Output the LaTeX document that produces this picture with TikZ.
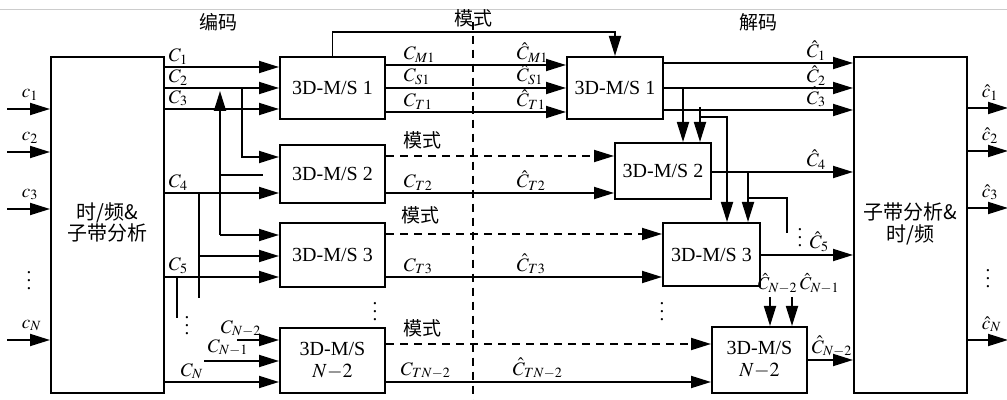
\documentclass[tikz,border=0pt]{standalone}
\usepackage{mathptmx}
\usepackage{fontspec}
\setmainfont{Liberation Serif}
\newfontfamily\cjk{Noto Sans CJK SC}
\usetikzlibrary{arrows.meta}
\begin{document}
\begin{tikzpicture}[x=0.5pt,y=-0.5pt,line width=0.9pt,
  box/.style={draw,line width=1pt,inner sep=0pt,align=center,font=\fontsize{10}{11}\selectfont},
  bigbox/.style={box,minimum width=56.5pt,minimum height=168pt,font=\cjk\fontsize{10}{10.5}\selectfont},
  encbox/.style={box,minimum width=52.5pt},
  decbox/.style={box,minimum width=48pt},
  arr/.style={-{Triangle[length=10pt,width=6pt]}},
  lab/.style={font=\fontsize{9.5}{10}\selectfont,inner sep=0pt},
  lb/.style={lab,anchor=south west},
  zh/.style={font=\cjk\fontsize{9.5}{11}\selectfont,inner sep=0pt},
  mode/.style={dash pattern=on 4pt off 3pt}]
\useasboundingbox (0,0) rectangle (1007,400);
\draw[gray!40,line width=0.5pt] (0,10) -- (1007,10);

% titles
\node[zh] (t1) at (218,22) {编码};
\node[zh] (t2) at (473,18) {模式};
\node[zh] (t3) at (758,22) {解码};

% boxes
\node[bigbox] (L) at (107.5,225) {\raisebox{1pt}{\begin{tabular}{@{}c@{}}时/频\&\\[-1pt]子带分析\end{tabular}}};
\node[bigbox] (R) at (910.5,225) {\raisebox{-5.5pt}{\begin{tabular}{@{}c@{}}子带分析\&\\[-0.5pt]时/频\end{tabular}}};
\node[encbox,minimum height=31pt] (E1) at (332.5,88) {3D-M/S 1};
\node[encbox,minimum height=29pt] (E2) at (332.5,174) {3D-M/S 2};
\node[encbox,minimum height=32pt] (E3) at (332.5,255) {3D-M/S 3};
\node[encbox,minimum height=32.5pt] (EN) at (332.5,360.5) {3D-M/S\\$N{-}2$};
\node[decbox,minimum height=31pt] (D1) at (615,88) {3D-M/S 1};
\node[decbox,minimum height=28pt] (D2) at (663,171) {3D-M/S 2};
\node[decbox,minimum width=48.5pt,minimum height=31.5pt] (D3) at (711.5,254.5) {3D-M/S 3};
\node[decbox,minimum width=47.5pt,minimum height=33pt] (DN) at (759.5,360) {3D-M/S\\$N{-}2$};

% inputs
\foreach \yy/\nm in {109/1,152/2,209/3,340/N}{
  \draw[arr] (L.west |- 0,\yy) ++(-43,0) -- (L.west |- 0,\yy);
  \node[lb] (in\nm) at (21,\yy-8) {$c_{\nm}$};
}
\node[lab] (ldots) at (29,275) {$\vdots$};

% outputs
\foreach \yy/\nm in {108/1,151/2,208/3,340/N}{
  \draw[arr] (R.east |- 0,\yy) -- ++(40,0);
  \node[lb] (out\nm) at (981,\yy-7) {$\hat{c}_{\nm}$};
}
\node[lab] (rdots) at (988,273) {$\vdots$};

% encoder inputs
\draw[arr] (L.east |- 0,67) -- (E1.west |- 0,67);
\draw[arr] (L.east |- 0,88) -- (E1.west |- 0,88);
\draw[arr] (L.east |- 0,109) -- (E1.west |- 0,109);
\draw[arr] (L.east |- 0,193) -- (E2.west |- 0,193);
\draw[arr] (L.east |- 0,277) -- (E3.west |- 0,277);
\draw[arr] (L.east |- 0,382) -- (EN.west |- 0,382);
\node[lb] (C1) at (168,65) {$C_1$};
\node[lb] (C2) at (168,86) {$C_2$};
\node[lb] (C3) at (168,107) {$C_3$};
\node[lb] (C4) at (168,191) {$C_4$};
\node[lb] (C5) at (168,275) {$C_5$};
\node[lb] (CN) at (180,380) {$C_N$};

\coordinate (b2) at (242,88);
\draw[arr] (b2) |- (E2.west |- 0,157);
\coordinate (j3) at (220,235);
\draw[arr] (j3) -- (220,91);
\draw[arr] (j3) -- (E3.west |- j3);
\draw (220,175) -- (263,175);
\coordinate (b4) at (199,193);
\draw (b4) -- (199,298);
\draw[arr] (199,256) -- (E3.west |- 0,256);
\coordinate (b5) at (177,277);
\draw (b5) -- (177,318);
\node[lab] (edots1) at (187,320) {$\vdots$};
\coordinate (cn2) at (237,340);
\draw[arr] (cn2) -- (EN.west |- cn2);
\coordinate (cn1) at (204,361);
\draw[arr] (cn1) -- (EN.west |- cn1);
\node[lb] (CN2) at (220,338) {$C_{N{-}2}$};
\node[lb] (CN1) at (207,357) {$C_{N{-}1}$};

% mode top
\draw[arr] (E1.north) -- ++(0,-24) -| (D1.north);

% channel lines
\draw[arr] (E1.east |- 0,65) -- (D1.west |- 0,65);
\draw[arr] (E1.east |- 0,88) -- (D1.west |- 0,88);
\draw[arr] (E1.east |- 0,112) -- (D1.west |- 0,112);
\node[lb] (CM1) at (403,63) {$C_{M1}$};
\node[lb] (CS1) at (403,86) {$C_{S1}$};
\node[lb] (CT1) at (403,110) {$C_{T1}$};
\node[lb] (hCM1) at (516,63) {$\hat{C}_{M1}$};
\node[lb] (hCS1) at (516,86) {$\hat{C}_{S1}$};
\node[lb] (hCT1) at (516,110) {$\hat{C}_{T1}$};

\draw[arr,mode] (E2.east |- 0,156) -- (D2.west |- 0,156);
\draw[arr] (E2.east |- 0,193) -- (D2.west |- 0,193);
\node[zh] (m2) at (422,140) {模式};
\node[lb] (CT2) at (403,191) {$C_{T2}$};
\node[lb] (hCT2) at (516,191) {$\hat{C}_{T2}$};

\draw[arr,mode] (E3.east |- 0,234) -- (D3.west |- 0,234);
\draw[arr] (E3.east |- 0,277) -- (D3.west |- 0,277);
\node[zh] (m3) at (420,215) {模式};
\node[lb] (CT3) at (403,275) {$C_{T3}$};
\node[lb] (hCT3) at (516,275) {$\hat{C}_{T3}$};

\draw[arr,mode] (EN.east |- 0,344) -- (DN.west |- 0,344);
\draw[arr] (EN.east |- 0,382) -- (DN.west |- 0,382);
\node[zh] (mN) at (422,328) {模式};
\node[lb] (CTN) at (400,380) {$C_{TN{-}2}$};
\node[lb] (hCTN) at (512,380) {$\hat{C}_{TN{-}2}$};

\node[lab] (edots2) at (375,306) {$\vdots$};
\node[lab] (ddots2) at (662,306) {$\vdots$};

% centre dashed line
\draw[mode] (t2.south) ++(0,-6) coordinate (top) -- (473,400);

% decoder
\draw[arr] (D1.east |- 0,63) -- (R.west |- 0,63);
\draw[arr] (D1.east |- 0,88) -- (R.west |- 0,88);
\draw[arr] (D1.east |- 0,110) -- (R.west |- 0,110);
\node[lb] (hC1) at (806,61) {$\hat{C}_1$};
\node[lb] (hC2) at (806,86) {$\hat{C}_2$};
\node[lb] (hC3) at (806,108) {$\hat{C}_3$};
\coordinate (d2) at (683,88);
\draw[arr] (d2) -- (D2.north -| d2);
\coordinate (d3) at (700,107);
\draw[arr] (d3) -- (D2.north -| d3);
\coordinate (d3b) at (700,117);
\draw[arr] (d3b) -| (D3.north -| 727,0);
\draw[arr] (D2.east |- 0,172) -- (R.west |- 0,172);
\node[lb] (hC4) at (806,170) {$\hat{C}_4$};
\coordinate (d4) at (748,172);
\draw[arr] (d4) -- (D3.north -| d4);
\draw (748,198) -| (787,233);
\node[lab] (ddots1) at (800,232) {$\vdots$};
\draw[arr] (D3.east |- 0,255) -- (R.west |- 0,255);
\node[lb] (hC5) at (809,253) {$\hat{C}_5$};
\coordinate (n2) at (770,297);
\coordinate (n1) at (792,297);
\draw[arr] (n2) -- (DN.north -| n2);
\draw[arr] (n1) -- (DN.north -| n1);
\node[lb,font=\fontsize{9}{10}\selectfont] (hCN2a) at (757,295) {$\hat{C}_{N{-}2}$};
\node[lb,font=\fontsize{9}{10}\selectfont] (hCN1) at (799,295) {$\hat{C}_{N{-}1}$};
\draw[arr] (DN.east |- 0,360) -- (R.west |- 0,360);
\node[lb] (hCN2b) at (811,358) {$\hat{C}_{N{-}2}$};
\end{tikzpicture}
\end{document}
